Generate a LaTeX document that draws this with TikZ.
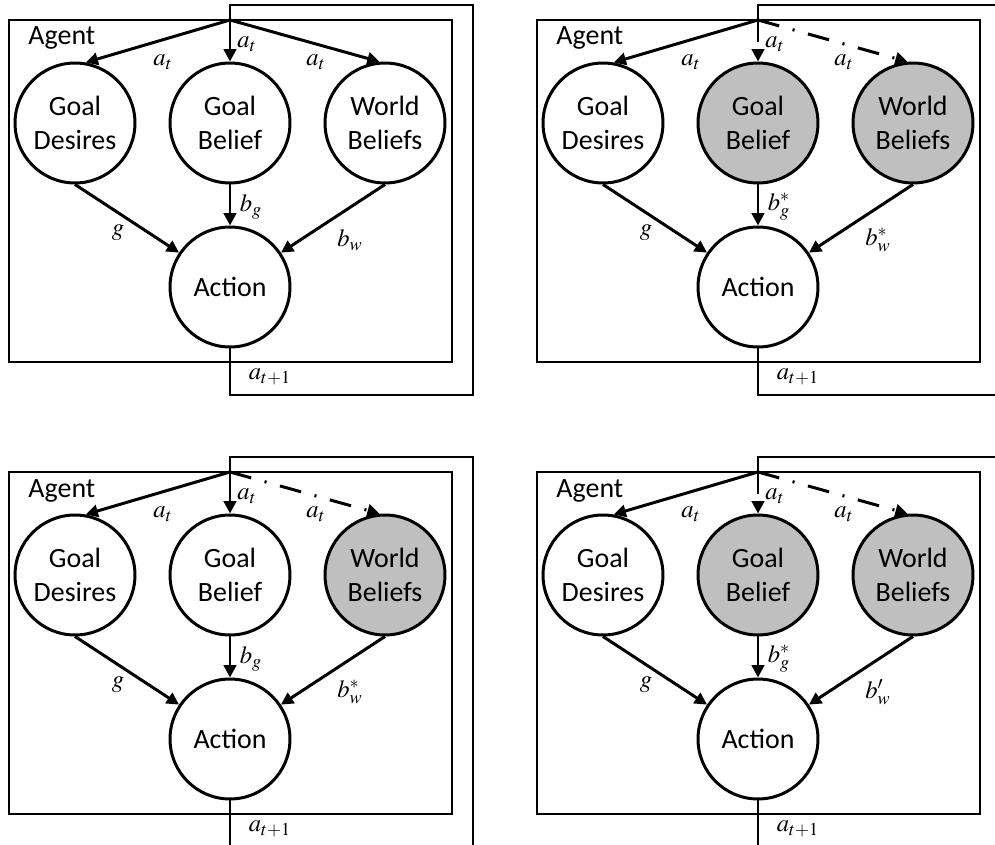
\documentclass[tikz,border=0pt]{standalone}
\usepackage{mathptmx}
\usepackage[no-math]{fontspec}
\setmainfont{Carlito}
\usetikzlibrary{arrows.meta}

\tikzset{
  mind/.style={circle,draw,minimum size=2.4cm,inner sep=0pt,align=center,
    font=\fontsize{15.9}{19.3}\selectfont},
  bare/.style={fill=white},
  grey/.style={fill=black!25},
  solidarr/.style={-{Triangle[length=7pt,width=7pt]}},
  dasharr/.style={solidarr,dash pattern=on 12.5pt off 7.9pt on 1.2pt off 7.9pt},
  sym/.style={inner sep=0pt,font=\fontsize{14}{16}\selectfont}
}

\begin{document}
\begin{tikzpicture}[x=0.02cm,y=-0.02cm,line width=1.7pt]
  \useasboundingbox (0,0) rectangle (995,845);
  \clip (0,0) rectangle (995,845);
  \foreach \dx/\dy/\gbfill/\wbfill/\gbarr/\wbarr/\bglab/\bwlab/\p in
    {0/0/bare/bare/solidarr/solidarr/b_g/b_w/a,
     528/0/grey/grey/dasharr/dasharr/b_g^*/b_w^*/b,
     0/452/bare/grey/solidarr/dasharr/b_g/b_w^*/c,
     528/452/grey/grey/dasharr/dasharr/b_g^*/b_w^{\prime}/d}
  {
  \begin{scope}[shift={(\dx,\dy)}]
    % agent box
    \draw (9,20) rectangle (452,362);
    \node[anchor=base west,inner sep=0pt,font=\fontsize{15.9}{17}\selectfont] (agent\p) at (27,45) {Agent};
    \coordinate (fork\p) at (230,20);
    \node[mind,bare] (gd\p) at (75,123) {Goal\\Desires};
    \node[mind,\gbfill] (gb\p) at (230,123) {Goal\\Belief};
    \node[mind,\wbfill] (wb\p) at (385,123) {World\\Beliefs};
    \node[mind,bare] (act\p) at (230,287) {Action};
    % feedback loop
    \coordinate (lb\p) at (230,395);
    \coordinate (rb\p) at (473,395);
    \coordinate (rt\p) at (473,5);
    \coordinate (lt\p) at (230,5);
    \draw (act\p.south) -- (lb\p) -- (rb\p) -- (rt\p) -- (lt\p) -- (fork\p);
    % edges
    \draw[solidarr] (fork\p) -- (gd\p.80);
    \draw[\gbarr] (fork\p) -- (gb\p.north);
    \draw[\wbarr] (fork\p) -- (wb\p.95);
    \draw[solidarr] (gd\p.south) -- (act\p.146);
    \draw[solidarr] (gb\p.south) -- (act\p.north);
    \draw[solidarr] (wb\p.south) -- (act\p.34);
    % labels
    \node[sym] (atl\p) at (163,62) {$a_t$};
    \node[sym] (atm\p) at (247,44) {$a_t$};
    \node[sym] (atr\p) at (316,62) {$a_t$};
    \node[sym] (bg\p) at (251,207) {$\bglab$};
    \node[sym] (g\p) at (118,233) {$g$};
    \node[sym] (bw\p) at (350,240) {$\bwlab$};
    \node[sym] (an\p) at (270,377) {$a_{t+1}$};
  \end{scope}
  }
\end{tikzpicture}
\end{document}
